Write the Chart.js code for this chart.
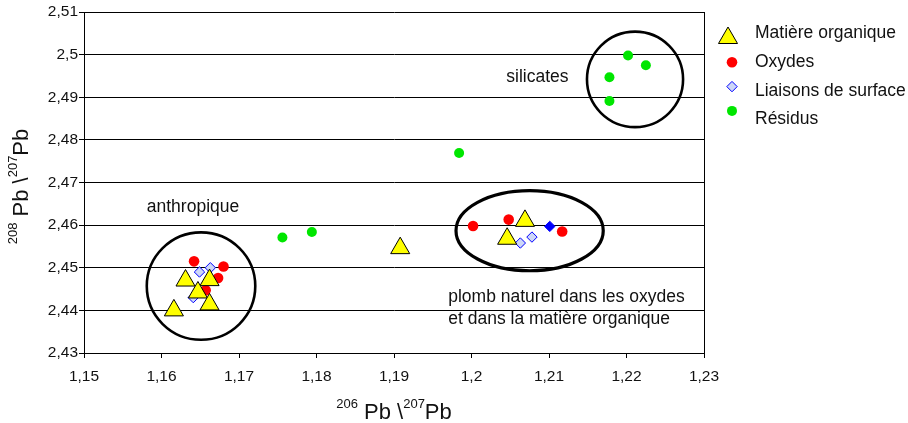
<!DOCTYPE html>
<html>
<head>
<meta charset="utf-8">
<script src="https://cdn.jsdelivr.net/npm/chart.js@4/dist/chart.umd.min.js"></script>
<style>
  body { margin: 0; background: #fff; }
  canvas { display: block; }
</style>
</head>
<body>
<canvas id="graphe" width="908" height="423"></canvas>
<script>
// series (206Pb/207Pb, 208Pb/207Pb)
var matiereX = [1.1631, 1.1662, 1.1647, 1.1662, 1.1616, 1.1908, 1.2069, 1.2046];
var matiereY = [2.4470, 2.4471, 2.4442, 2.4414, 2.4400, 2.4546, 2.4610, 2.4568];

var oxydesX = [1.1642, 1.1680, 1.1673, 1.1657, 1.2002, 1.2048, 1.2117];
var oxydesY = [2.4515, 2.4503, 2.4476, 2.4447, 2.4598, 2.4613, 2.4585];

var liaisonsX = [1.1649, 1.1663, 1.1641, 1.2063, 1.2078, 1.2101];
var liaisonsY = [2.4490, 2.4500, 2.4430, 2.4558, 2.4572, 2.4597];
var liaisonsPlein = [false, false, false, false, false, true];

var residusX = [1.1756, 1.1794, 1.1984, 1.2202, 1.2225, 1.2178, 1.2178];
var residusY = [2.4571, 2.4584, 2.4769, 2.4998, 2.4975, 2.4947, 2.4891];

var nomsSeries = ['Matière organique', 'Oxydes', 'Liaisons de surface', 'Résidus'];

// axes
var xMin = 1.15, xMax = 1.23;
var yMin = 2.43, yMax = 2.51;
var pas = 0.01;

// groupes entourés (centre et demi-axes en unités des données)
var groupesNoms = ['silicates', 'anthropique', 'oxydes'];
var groupesCx = [1.2211, 1.1651, 1.2075];
var groupesCy = [2.4942, 2.4457, 2.4587];
var groupesRx = [0.0062, 0.0070, 0.0095];
var groupesRy = [0.0112, 0.0126, 0.0094];

// étiquettes dans le graphique
var etiquettes = ['silicates', 'anthropique', 'plomb naturel dans les oxydes', 'et dans la matière organique'];
var etiquettesX = [1.2085, 1.1581, 1.1970, 1.1970];
var etiquettesY = [2.4946, 2.4642, 2.4431, 2.4380];
var etiquettesAlign = ['center', 'left', 'left', 'left'];

var police = '"Liberation Sans", Arial, sans-serif';

function points(xs, ys) {
	var res = [];
	for (var i = 0; i < xs.length; i++) {
		res.push({ x: xs[i], y: ys[i] });
	}
	return res;
}

function formatVirgule(v) {
	return String(parseFloat(Number(v).toFixed(2))).replace('.', ',');
}

// dessine les ellipses, le cadre, les textes, la légende et les titres des axes
var decorPlugin = {
	id: 'decor',
	beforeDatasetsDraw: function (chart) {
		var ctx = chart.ctx;
		var xs = chart.scales.x, ys = chart.scales.y;
		var a = chart.chartArea;
		ctx.save();
		// cadre droit
		ctx.strokeStyle = '#000';
		ctx.lineWidth = 1;
		ctx.beginPath();
		ctx.moveTo(Math.round(a.right) + 0.5, a.top);
		ctx.lineTo(Math.round(a.right) + 0.5, a.bottom);
		ctx.stroke();
		// ellipses
		for (var i = 0; i < groupesNoms.length; i++) {
			var cx = xs.getPixelForValue(groupesCx[i]);
			var cy = ys.getPixelForValue(groupesCy[i]);
			var rx = Math.abs(xs.getPixelForValue(groupesCx[i] + groupesRx[i]) - cx);
			var ry = Math.abs(ys.getPixelForValue(groupesCy[i] + groupesRy[i]) - cy);
			ctx.beginPath();
			ctx.ellipse(cx, cy, rx, ry, 0, 0, Math.PI * 2);
			ctx.lineWidth = groupesNoms[i] == 'oxydes' ? 3.2 : 2.6;
			ctx.strokeStyle = '#000';
			ctx.stroke();
		}
		// textes
		ctx.fillStyle = '#111';
		ctx.font = '17.5px ' + police;
		ctx.textBaseline = 'middle';
		for (var j = 0; j < etiquettes.length; j++) {
			ctx.textAlign = etiquettesAlign[j];
			ctx.fillText(etiquettes[j], xs.getPixelForValue(etiquettesX[j]), ys.getPixelForValue(etiquettesY[j]));
		}
		ctx.restore();
	},
	afterDraw: function (chart) {
		var ctx = chart.ctx;
		var a = chart.chartArea;
		ctx.save();
		// légende
		var ds = chart.data.datasets;
		for (var i = 0; i < ds.length; i++) {
			var d = ds[i];
			var mx = d.pointStyle == 'triangle' ? a.right + 24 : a.right + 28;
			var my = 38 + 24.3 * i;
			ctx.fillStyle = Array.isArray(d.backgroundColor) ? d.backgroundColor[0] : d.backgroundColor;
			ctx.strokeStyle = d.borderColor;
			ctx.lineWidth = d.borderWidth;
			Chart.helpers.drawPoint(ctx, {
				pointStyle: d.pointStyle,
				radius: d.pointRadius,
				borderWidth: d.borderWidth,
				rotation: 0
			}, mx, my);
			ctx.fillStyle = '#111';
			ctx.font = '17.5px ' + police;
			ctx.textAlign = 'left';
			ctx.textBaseline = 'middle';
			ctx.fillText(d.label, a.right + 51, 33.5 + 28.6 * i);
		}
		// titres des axes
		ctx.fillStyle = '#111';
		ctx.textBaseline = 'alphabetic';
		ctx.textAlign = 'left';
		var morceaux = function (exp1, exp2) {
			return [
				{ t: exp1, sup: true },
				{ t: ' Pb \\', sup: false },
				{ t: exp2, sup: true },
				{ t: 'Pb', sup: false }
			];
		};
		var dessineTitre = function (parts, cx, baseY, rot) {
			var fontMain = '22px ' + police;
			var fontSup = '13px ' + police;
			var total = 0;
			parts.forEach(function (p) {
				ctx.font = p.sup ? fontSup : fontMain;
				p.w = ctx.measureText(p.t).width;
				total += p.w;
			});
			ctx.save();
			ctx.translate(cx, baseY);
			if (rot) ctx.rotate(-Math.PI / 2);
			var x = -total / 2;
			parts.forEach(function (p) {
				ctx.font = p.sup ? fontSup : fontMain;
				ctx.fillText(p.t, x, p.sup ? -11 : 0);
				x += p.w;
			});
			ctx.restore();
		};
		dessineTitre(morceaux('206', '207'), (a.left + a.right) / 2, 419, false);
		dessineTitre(morceaux('208', '207'), 28, (a.top + a.bottom) / 2 + 4, true);
		ctx.restore();
	}
};

var config = {
	type: 'scatter',
	data: {
		datasets: [
			{
				label: nomsSeries[0],
				data: points(matiereX, matiereY),
				pointStyle: 'triangle',
				pointRadius: 11,
				backgroundColor: '#ffff00',
				borderColor: '#000',
				borderWidth: 1
			},
			{
				label: nomsSeries[1],
				data: points(oxydesX, oxydesY),
				pointStyle: 'circle',
				pointRadius: 5.3,
				backgroundColor: '#ff0000',
				borderColor: '#ff0000',
				borderWidth: 0
			},
			{
				label: nomsSeries[2],
				data: points(liaisonsX, liaisonsY),
				pointStyle: 'rectRot',
				pointRadius: 5.2,
				backgroundColor: liaisonsPlein.map(function (p) { return p ? '#0000ff' : '#cdd7f7'; }),
				borderColor: '#0000ff',
				borderWidth: 1
			},
			{
				label: nomsSeries[3],
				data: points(residusX, residusY),
				pointStyle: 'circle',
				pointRadius: 5,
				backgroundColor: '#00e600',
				borderColor: '#00e600',
				borderWidth: 0
			}
		]
	},
	options: {
		responsive: false,
		animation: false,
		layout: { padding: { left: 0, top: 10, right: 204, bottom: 0 } },
		plugins: {
			legend: { display: false },
			tooltip: { enabled: false }
		},
		scales: {
			x: {
				type: 'linear',
				min: xMin,
				max: xMax,
				afterFit: function (s) { s.height = 70; },
				grid: { drawOnChartArea: false, drawTicks: true, tickLength: 5, color: '#000' },
				border: { display: true, color: '#000', width: 1 },
				ticks: {
					stepSize: pas,
					autoSkip: false,
					maxRotation: 0,
					padding: 9,
					color: '#111',
					font: { family: police, size: 15.5 },
					callback: formatVirgule
				}
			},
			y: {
				type: 'linear',
				min: yMin,
				max: yMax,
				afterFit: function (s) { s.width = 84; },
				grid: { drawTicks: true, tickLength: 5, color: '#000', lineWidth: 1 },
				border: { display: true, color: '#000', width: 1 },
				ticks: {
					stepSize: pas,
					autoSkip: false,
					padding: 1,
					color: '#111',
					font: { family: police, size: 15.5 },
					callback: formatVirgule
				}
			}
		}
	},
	plugins: [decorPlugin]
};

var graphe = new Chart(document.getElementById('graphe').getContext('2d'), config);
</script>
</body>
</html>
